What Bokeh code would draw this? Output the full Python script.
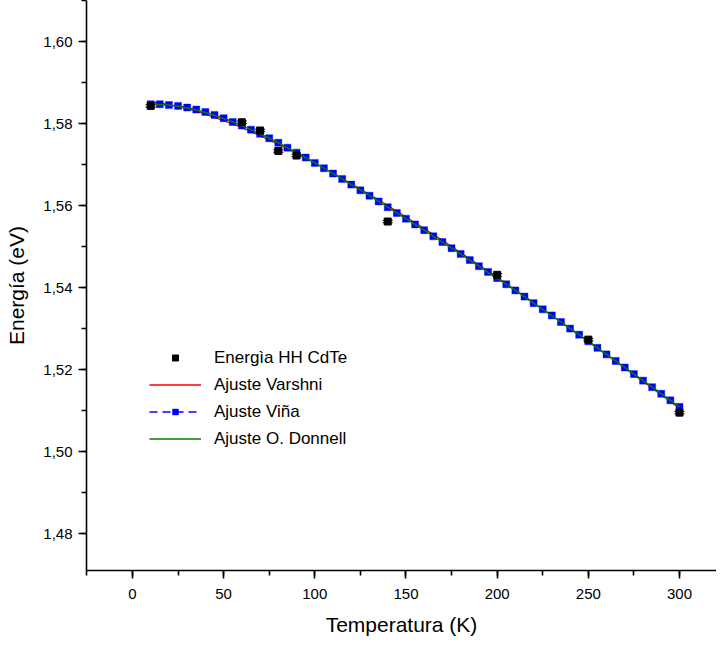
from bokeh.plotting import figure
from bokeh.models import (ColumnDataSource, Whisker, TeeHead, Legend, LegendItem,
                          SingleIntervalTicker, CustomJSTickFormatter, Range1d)
from bokeh.embed import file_html
from bokeh.resources import INLINE

# Measured data (Energía HH CdTe)
temp_data = [10, 60, 70, 80, 90, 140, 200, 250, 300]
energy_data = [1.5843, 1.5803, 1.5783, 1.5733, 1.5722, 1.5561, 1.5431, 1.5273, 1.5095]
energy_err = [0.0003, 0.0003, 0.0003, 0.0003, 0.0003, 0.0003, 0.0003, 0.0003, 0.0003]

# Fit curves, sampled every 5 K
temp_fit = [10, 15, 20, 25, 30, 35, 40, 45, 50, 55, 60, 65, 70, 75, 80, 85, 90, 95, 100,
            105, 110, 115, 120, 125, 130, 135, 140, 145, 150, 155, 160, 165, 170, 175, 180,
            185, 190, 195, 200, 205, 210, 215, 220, 225, 230, 235, 240, 245, 250, 255, 260,
            265, 270, 275, 280, 285, 290, 295, 300]
varshni = [1.5853, 1.5850, 1.5846, 1.5841, 1.5836, 1.5830, 1.5823, 1.5815, 1.5807, 1.5799,
           1.5790, 1.5780, 1.5770, 1.5760, 1.5749, 1.5738, 1.5727, 1.5715, 1.5704, 1.5691,
           1.5679, 1.5666, 1.5653, 1.5640, 1.5627, 1.5614, 1.5600, 1.5586, 1.5572, 1.5558,
           1.5544, 1.5529, 1.5515, 1.5500, 1.5485, 1.5470, 1.5455, 1.5440, 1.5425, 1.5410,
           1.5394, 1.5379, 1.5363, 1.5348, 1.5332, 1.5316, 1.5300, 1.5284, 1.5268, 1.5252,
           1.5236, 1.5220, 1.5204, 1.5187, 1.5171, 1.5155, 1.5138, 1.5122, 1.5105]
vina = [1.5847, 1.5847, 1.5845, 1.5843, 1.5839, 1.5834, 1.5828, 1.5821, 1.5813, 1.5804,
        1.5795, 1.5785, 1.5775, 1.5764, 1.5753, 1.5741, 1.5729, 1.5717, 1.5704, 1.5691,
        1.5678, 1.5665, 1.5651, 1.5637, 1.5624, 1.5610, 1.5596, 1.5582, 1.5568, 1.5554,
        1.5540, 1.5525, 1.5511, 1.5496, 1.5482, 1.5467, 1.5452, 1.5438, 1.5423, 1.5408,
        1.5393, 1.5378, 1.5362, 1.5347, 1.5332, 1.5316, 1.5300, 1.5285, 1.5269, 1.5253,
        1.5237, 1.5221, 1.5205, 1.5189, 1.5173, 1.5157, 1.5141, 1.5125, 1.5109]
odonnell = [1.5847, 1.5846, 1.5845, 1.5842, 1.5838, 1.5833, 1.5827, 1.5820, 1.5812, 1.5804,
            1.5795, 1.5785, 1.5775, 1.5764, 1.5753, 1.5741, 1.5729, 1.5717, 1.5704, 1.5691,
            1.5678, 1.5665, 1.5651, 1.5638, 1.5624, 1.5610, 1.5596, 1.5582, 1.5568, 1.5554,
            1.5540, 1.5525, 1.5511, 1.5496, 1.5482, 1.5467, 1.5452, 1.5437, 1.5423, 1.5408,
            1.5393, 1.5377, 1.5362, 1.5347, 1.5331, 1.5316, 1.5300, 1.5285, 1.5269, 1.5253,
            1.5237, 1.5221, 1.5205, 1.5189, 1.5173, 1.5157, 1.5141, 1.5125, 1.5109]

FONT = "Liberation Sans"

p = figure(width=716, height=650, output_backend="svg", toolbar_location=None,
           x_range=Range1d(-25.2, 320.3), y_range=Range1d(1.4710, 1.6100),
           min_border_left=86, min_border_right=0, min_border_top=0, min_border_bottom=80)
p.outline_line_color = None
p.xgrid.visible = False
p.ygrid.visible = False
p.background_fill_color = "white"

r_varshni = p.line(temp_fit, varshni, line_color="red", line_width=1.3)
r_vina_line = p.line(temp_fit, vina, line_color="blue", line_width=1.3, line_dash="8 5")
r_vina_pts = p.scatter(temp_fit, vina, marker="square", size=7, fill_color="blue",
                       line_color="blue", line_alpha=0.4)
r_odon = p.line(temp_fit, odonnell, line_color="green", line_width=1.5)

src = ColumnDataSource(dict(
    x=temp_data, y=energy_data,
    upper=[e + d for e, d in zip(energy_data, energy_err)],
    lower=[e - d for e, d in zip(energy_data, energy_err)],
))
wh = Whisker(source=src, base="x", upper="upper", lower="lower", dimension="height",
             line_color="black", line_width=1,
             upper_head=TeeHead(size=10, line_color="black", line_width=1),
             lower_head=TeeHead(size=10, line_color="black", line_width=1))
p.add_layout(wh)
r_data = p.scatter("x", "y", source=src, marker="square", size=7,
                   fill_color="black", line_color="black")

# axes
for ax in (p.xaxis[0], p.yaxis[0]):
    ax.axis_line_width = 1.6
    ax.major_tick_line_width = 1.6
    ax.minor_tick_line_width = 1.6
    ax.major_tick_out = 8
    ax.major_tick_in = 0
    ax.minor_tick_out = 5
    ax.minor_tick_in = 0
    ax.major_label_text_font = FONT
    ax.major_label_text_font_size = "15px"
    ax.major_label_text_color = "black"
    ax.axis_label_text_font = FONT
    ax.axis_label_text_font_size = "21px"
    ax.axis_label_text_font_style = "normal"
    ax.axis_label_text_color = "black"

p.xaxis[0].ticker = SingleIntervalTicker(interval=50, num_minor_ticks=2)
p.yaxis[0].ticker = SingleIntervalTicker(interval=0.02, num_minor_ticks=2)
p.yaxis[0].formatter = CustomJSTickFormatter(code="return tick.toFixed(2).replace('.', ',');")
p.xaxis[0].axis_label = "Temperatura (K)"
p.yaxis[0].axis_label = "Energía (eV)"
p.xaxis[0].major_label_standoff = 10
p.yaxis[0].major_label_standoff = 6
p.xaxis[0].axis_label_standoff = 11
p.yaxis[0].axis_label_standoff = 12

legend = Legend(items=[
    LegendItem(label="Energìa HH CdTe", renderers=[r_data]),
    LegendItem(label="Ajuste Varshni", renderers=[r_varshni]),
    LegendItem(label="Ajuste Viña", renderers=[r_vina_line, r_vina_pts]),
    LegendItem(label="Ajuste O. Donnell", renderers=[r_odon]),
], location=(63, 118))
legend.border_line_alpha = 0
legend.background_fill_alpha = 0
legend.padding = 0
legend.margin = 0
legend.spacing = 0
legend.label_height = 27
legend.glyph_height = 15
legend.glyph_width = 52
legend.label_standoff = 13
legend.label_text_font = FONT
legend.label_text_font_size = "17px"
legend.label_text_color = "black"
p.add_layout(legend, "center")

open("out.html", "w").write(file_html(p, INLINE))
